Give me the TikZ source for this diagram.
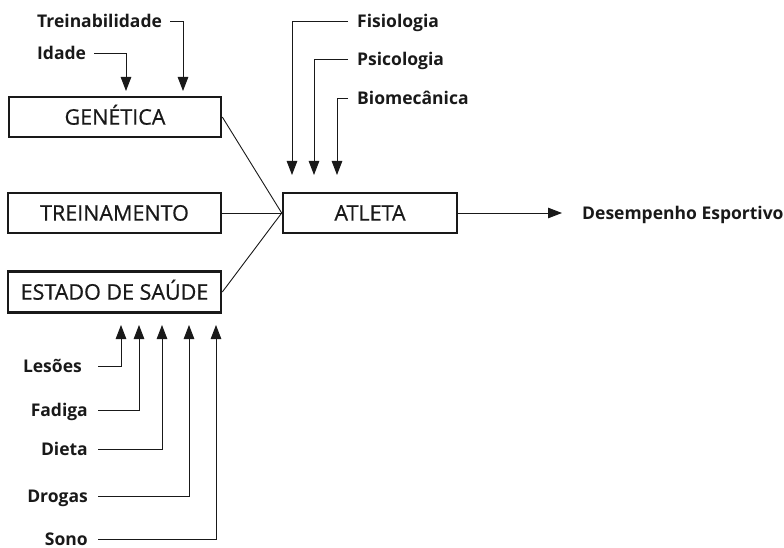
\documentclass[tikz,border=0pt]{standalone}
\usepackage{fontspec}
\setmainfont{Open Sans}
\newfontfamily\boxfont[FakeBold=0.7]{Open Sans}
\usetikzlibrary{arrows.meta,calc}
\begin{document}
\begin{tikzpicture}[x=1pt,y=-1pt,
  box/.style={draw=black!90,line width=2.6pt,inner sep=0pt,font=\boxfont\fontsize{21.5}{25}\selectfont,text height=15.3pt,text depth=0pt,text=black!90},
  lbl/.style={inner sep=0pt,font=\bfseries\fontsize{17.5}{20}\selectfont,text height=12.4pt,text depth=0pt,text=black!90},
  conn/.style={draw=black!90,line width=0.9pt},
  arr/.style={conn,-{Triangle[length=14pt,width=10.5pt]}}
]
\useasboundingbox (0,0) rectangle (784,548);
% boxes
\node[box,minimum width=212pt,minimum height=40pt] (gen) at (115,117) {GENÉTICA};
\node[box,minimum width=213pt,minimum height=40pt] (tre) at (114.5,213) {TREINAMENTO};
\node[box,minimum width=213pt,minimum height=41pt] (est) at (114.5,292) {ESTADO DE SAÚDE};
\node[box,minimum width=174pt,minimum height=40pt] (atl) at (370,213) {ATLETA};
% connections to athlete
\draw[conn] (gen.east) -- (atl.west);
\draw[conn] (tre.east) -- (atl.west);
\draw[conn] (est.east) -- (atl.west);
% output
\node[lbl,anchor=west] (des) at (582,213) {Desempenho Esportivo};
\draw[arr] (atl.east) -- ([xshift=-20pt]des.west);
% genetics inputs
\node[lbl,anchor=west] (trb) at (37,21) {Treinabilidade};
\node[lbl,anchor=west] (ida) at (37,53) {Idade};
\coordinate (gA) at (126,91);
\coordinate (gB) at (183,91);
\draw[arr] ([xshift=8pt]ida.east) -| (gA);
\draw[arr] ([xshift=8pt]trb.east) -| (gB);
% athlete inputs
\node[lbl,anchor=west] (fis) at (357,21) {Fisiologia};
\node[lbl,anchor=west] (psi) at (357,59) {Psicologia};
\node[lbl,anchor=west] (bio) at (357,98) {Biomecânica};
\coordinate (aA) at (292,175);
\coordinate (aB) at (314,175);
\coordinate (aC) at (337,175);
\draw[arr] ([xshift=-9pt]fis.west) -| (aA);
\draw[arr] ([xshift=-9pt]psi.west) -| (aB);
\draw[arr] ([xshift=-9pt]bio.west) -| (aC);
% health inputs
\node[lbl,anchor=east] (les) at (82,366) {Lesões};
\node[lbl,anchor=east] (fad) at (88,410) {Fadiga};
\node[lbl,anchor=east] (die) at (88,449) {Dieta};
\node[lbl,anchor=east] (dro) at (88,496) {Drogas};
\node[lbl,anchor=east] (son) at (88,539) {Sono};
\coordinate (s1) at (98,366);
\coordinate (s2) at (98,410);
\coordinate (s3) at (98,449);
\coordinate (s4) at (98,496);
\coordinate (s5) at (98,539);
\coordinate (h1) at (121,325);
\coordinate (h2) at (139,325);
\coordinate (h3) at (162,325);
\coordinate (h4) at (189,325);
\coordinate (h5) at (216,325);
\draw[arr] (s1) -| (h1);
\draw[arr] (s2) -| (h2);
\draw[arr] (s3) -| (h3);
\draw[arr] (s4) -| (h4);
\draw[arr] (s5) -| (h5);
\end{tikzpicture}
\end{document}
